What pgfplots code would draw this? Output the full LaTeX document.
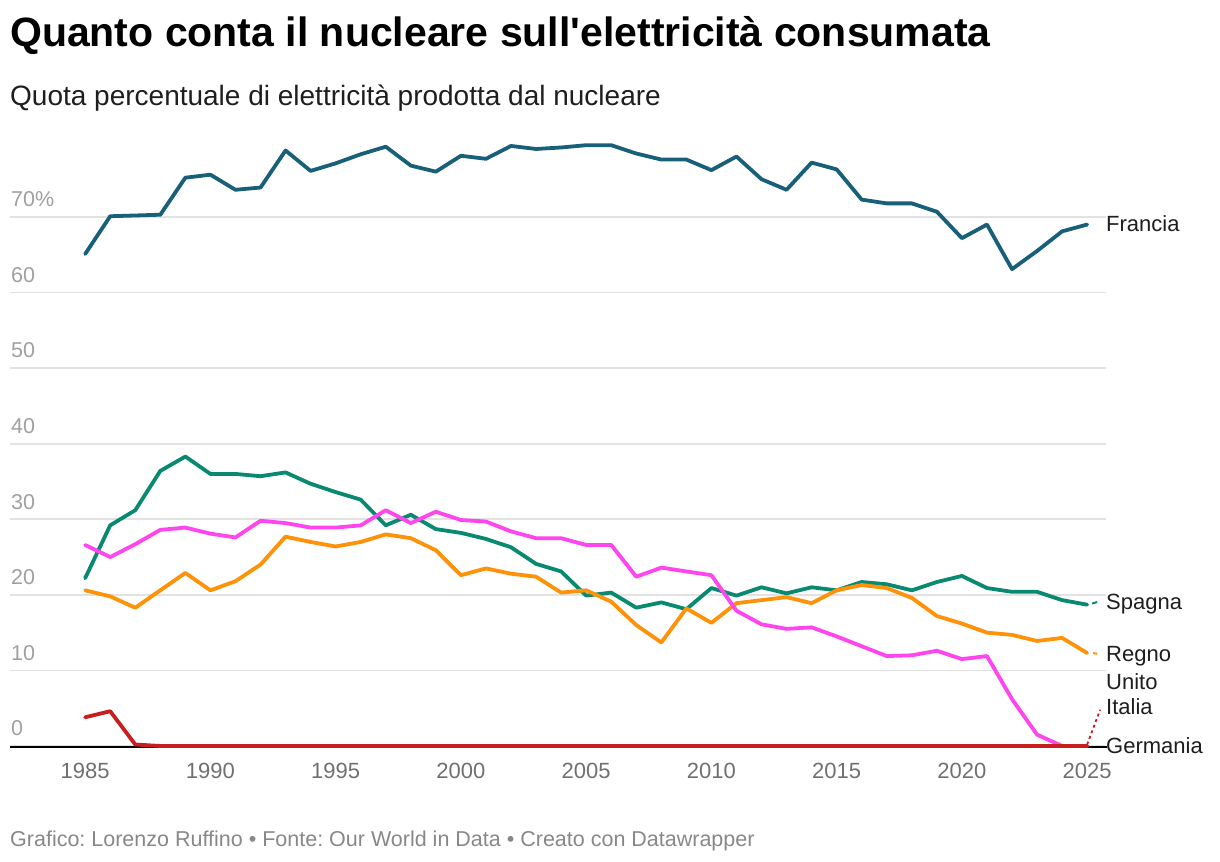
\documentclass[border=0pt]{standalone}
\usepackage{pgfplots}
\pgfplotsset{compat=1.18}
\usepackage{fontspec}
\setmainfont{Liberation Sans}
\frenchspacing
\definecolor{cfr}{RGB}{24,96,122}
\definecolor{ces}{RGB}{8,137,112}
\definecolor{cuk}{RGB}{255,146,8}
\definecolor{cde}{RGB}{255,70,238}
\definecolor{cit}{RGB}{200,30,30}
\definecolor{cgrid}{RGB}{226,226,226}
\definecolor{cylab}{RGB}{160,160,160}
\definecolor{cxlab}{RGB}{112,112,112}
\definecolor{cfoot}{RGB}{136,136,136}
\definecolor{ctxt}{RGB}{30,30,30}
\begin{document}
\begin{tikzpicture}[x=1bp,y=1bp]
\path[use as bounding box] (0,0) rectangle (1220,862);
\node[anchor=base west, inner sep=0pt] at (10,815) {\fontsize{41bp}{49bp}\selectfont\bfseries Quanto conta il nucleare sull\textquotesingle elettricità consumata};
\node[anchor=base west, inner sep=0pt] at (10,756) {\fontsize{28bp}{34bp}\selectfont\color{ctxt}Quota percentuale di elettricità prodotta dal nucleare};
\node[anchor=base west, inner sep=0pt] at (10,15) {\fontsize{21.5bp}{26bp}\selectfont\color{cfoot}Grafico: Lorenzo Ruffino • Fonte: Our World in Data • Creato con Datawrapper};
\begin{axis}[
  at={(10bp,116bp)}, anchor=south west,
  x=25.05bp, y=7.557bp,
  xmin=1982, xmax=2025.76, ymin=0, ymax=80,
  clip=false,
  axis line style={draw=none},
  major tick length=0pt,
  ytick={0,10,20,30,40,50,60,70},
  yticklabels={},
  ymajorgrids,
  grid style={draw=cgrid, line width=1.6bp},
  xtick={1985,1990,1995,2000,2005,2010,2015,2020,2025},
  xticklabels={1985,1990,1995,2000,2005,2010,2015,2020,2025},
  xticklabel style={anchor=north, inner sep=0pt, yshift=-17bp, font=\fontsize{22bp}{26bp}\selectfont, text=cxlab},
  every axis plot/.append style={line width=3.8bp, line join=round, line cap=round, mark=none},
]
\foreach \v in {0,10,20,30,40,50,60} {
  \edef\temp{\noexpand\node[anchor=base west, inner sep=0pt, font=\noexpand\fontsize{21.5bp}{26bp}\noexpand\selectfont, text=cylab] at (axis cs:1982.04,\v+1.35) {\v};}
  \temp
}
\node[anchor=base west, inner sep=0pt, font=\fontsize{21.5bp}{26bp}\selectfont, text=cylab] at (axis cs:1982.04,71.35) {70\%};
\draw[black, line width=2.2bp] ([yshift=-1bp]axis cs:1982,0) -- ([yshift=-1bp]axis cs:2025.8,0);
% Francia
\addplot[cfr] coordinates {(1985,65.1)(1986,70.1)(1987,70.2)(1988,70.3)(1989,75.2)(1990,75.6)(1991,73.6)(1992,73.9)(1993,78.8)(1994,76.1)(1995,77.1)(1996,78.3)(1997,79.3)(1998,76.8)(1999,76.0)(2000,78.1)(2001,77.7)(2002,79.4)(2003,79.0)(2004,79.2)(2005,79.5)(2006,79.5)(2007,78.4)(2008,77.6)(2009,77.6)(2010,76.2)(2011,78.0)(2012,75.0)(2013,73.6)(2014,77.2)(2015,76.3)(2016,72.3)(2017,71.8)(2018,71.8)(2019,70.7)(2020,67.2)(2021,69.0)(2022,63.1)(2023,65.5)(2024,68.1)(2025,69.0)};
% Spagna
\addplot[ces] coordinates {(1985,22.2)(1986,29.2)(1987,31.2)(1988,36.4)(1989,38.3)(1990,36.0)(1991,36.0)(1992,35.7)(1993,36.2)(1994,34.7)(1995,33.6)(1996,32.6)(1997,29.2)(1998,30.6)(1999,28.7)(2000,28.2)(2001,27.4)(2002,26.3)(2003,24.1)(2004,23.1)(2005,19.9)(2006,20.3)(2007,18.3)(2008,19.0)(2009,18.1)(2010,20.9)(2011,19.9)(2012,21.0)(2013,20.2)(2014,21.0)(2015,20.6)(2016,21.7)(2017,21.4)(2018,20.6)(2019,21.7)(2020,22.5)(2021,20.9)(2022,20.4)(2023,20.4)(2024,19.3)(2025,18.7)};
% Regno Unito
\addplot[cuk] coordinates {(1985,20.6)(1986,19.8)(1987,18.3)(1988,20.6)(1989,22.9)(1990,20.6)(1991,21.8)(1992,24.0)(1993,27.7)(1994,27.0)(1995,26.4)(1996,27.0)(1997,28.0)(1998,27.5)(1999,25.9)(2000,22.6)(2001,23.5)(2002,22.8)(2003,22.4)(2004,20.3)(2005,20.6)(2006,19.1)(2007,16.0)(2008,13.7)(2009,18.2)(2010,16.3)(2011,18.9)(2012,19.3)(2013,19.7)(2014,18.9)(2015,20.6)(2016,21.3)(2017,20.9)(2018,19.6)(2019,17.2)(2020,16.2)(2021,15.0)(2022,14.7)(2023,13.9)(2024,14.3)(2025,12.3)};
% Germania
\addplot[cde] coordinates {(1985,26.6)(1986,25.0)(1987,26.7)(1988,28.6)(1989,28.9)(1990,28.1)(1991,27.6)(1992,29.8)(1993,29.5)(1994,28.9)(1995,28.9)(1996,29.2)(1997,31.2)(1998,29.5)(1999,31.0)(2000,29.9)(2001,29.7)(2002,28.4)(2003,27.5)(2004,27.5)(2005,26.6)(2006,26.6)(2007,22.4)(2008,23.6)(2009,23.1)(2010,22.6)(2011,17.9)(2012,16.1)(2013,15.5)(2014,15.7)(2015,14.5)(2016,13.2)(2017,11.9)(2018,12.0)(2019,12.6)(2020,11.5)(2021,11.9)(2022,6.2)(2023,1.5)(2024,0)(2025,0)};
% Italia
\addplot[cit] coordinates {(1985,3.8)(1986,4.6)(1987,0.2)(1988,0)(1990,0)(1995,0)(2000,0)(2005,0)(2010,0)(2015,0)(2020,0)(2025,0)};
% connectors
\draw[ces, line width=2bp] (axis cs:2025.2,18.85) -- (axis cs:2025.4,19.05);
\draw[cuk, line width=2bp] (axis cs:2025.24,12.3) -- (axis cs:2025.4,12.2);
\draw[cit, line width=1.8bp, dash pattern=on 3bp off 3bp] (axis cs:2025,0.2) -- (axis cs:2025.52,4.8);
\end{axis}
\begin{scope}[every node/.style={anchor=base west, inner sep=0pt, font=\fontsize{22bp}{26bp}\selectfont, text=ctxt}]
\node at (1106,630.3) {Francia};
\node at (1106,252) {Spagna};
\node at (1106,200.3) {Regno};
\node at (1106,172) {Unito};
\node at (1106,147) {Italia};
\node at (1106,108.7) {Germania};
\end{scope}
\end{tikzpicture}
\end{document}
